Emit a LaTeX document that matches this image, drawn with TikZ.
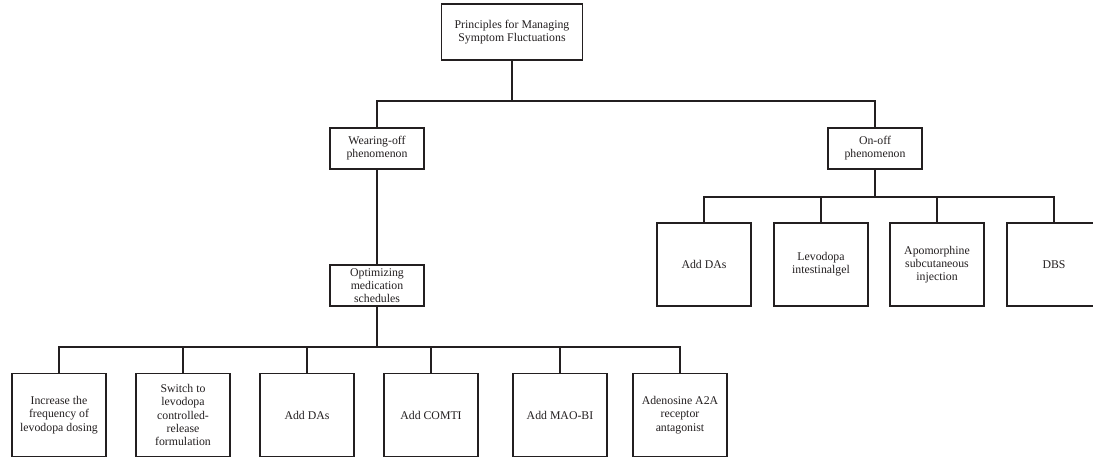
\documentclass[tikz,border=0pt]{standalone}
\usepackage{fontspec}
\setmainfont{Liberation Serif}
\definecolor{ink}{HTML}{231F20}
\tikzset{box/.style={draw, fill=white, align=center, inner sep=0pt, minimum width=94pt,
		font=\fontsize{11.8}{13.2}\selectfont},
	small/.style={box, minimum height=41pt},
	leaf/.style={box, minimum height=83pt}}

\begin{document}
\begin{tikzpicture}[x=1pt, y=-1pt, line width=1.5pt, color=ink]
	\useasboundingbox (0,0) rectangle (1093,457);
	\node[box, minimum width=141pt, minimum height=56pt] (root) at (512,32) {Principles for Managing\\ Symptom Fluctuations};
	\node[small] (wear) at (377,148.5) {Wearing-off\\ phenomenon};
	\node[small] (onoff) at (875,148.5) {On-off\\ phenomenon};
	\node[small] (opt) at (377,285.5) {Optimizing\\ medication\\ schedules};
	\coordinate (top) at (512,101);
	\coordinate (mid) at (875,197);
	\coordinate (low) at (377,347);
	\draw (root) -- (top);
	\draw (wear.north) |- (top) -| (onoff.north);
	\draw (wear) -- (opt);
	\draw (onoff) -- (mid);
	\draw (opt) -- (low);
	% on-off treatments
	\foreach \x/\nm/\txt in {704/on1/{Add DAs}, 821/on2/{Levodopa\\ intestinalgel},
			937/on3/{Apomorphine\\ subcutaneous\\ injection}, 1054/on4/{DBS}}{
		\node[leaf] (\nm) at (\x,264.5) {\txt};
		\draw (mid) -| (\nm.north);
	}
	% wearing-off treatments
	\foreach \x/\nm/\txt in {59/wo1/{Increase the\\ frequency of\\ levodopa dosing},
			183/wo2/{Switch to\\ levodopa\\ controlled-\\ release\\ formulation},
			307/wo3/{Add DAs}, 431/wo4/{Add COMTI}, 560/wo5/{Add MAO-BI},
			680/wo6/{Adenosine A2A\\ receptor\\ antagonist}}{
		\node[leaf] (\nm) at (\x,415) {\txt};
		\draw (low) -| (\nm.north);
	}
\end{tikzpicture}
\end{document}
